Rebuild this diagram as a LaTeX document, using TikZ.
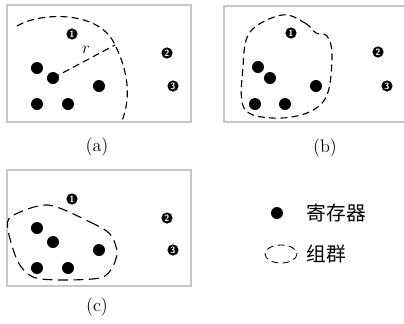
\documentclass[tikz,border=0pt]{standalone}
\usepackage{fontspec}
\newfontfamily\cjk{Noto Sans CJK SC}
\usetikzlibrary{calc,positioning}

\tikzset{
  reg/.style={circle,fill=black,inner sep=0pt,minimum size=0.3cm},
  num/.style={circle,fill=black,text=white,inner sep=0pt,minimum size=0.28cm,
    font=\sffamily\bfseries\fontsize{6.5}{7}\selectfont},
  frame/.style={draw=black!22,line width=0.8pt},
  grp/.style={line width=0.8pt,dash pattern=on 5pt off 3pt},
  longgrp/.style={line width=0.8pt,dash pattern=on 7pt off 4pt},
  subcap/.style={font=\fontsize{13}{15}\selectfont}
}

\begin{document}
\begin{tikzpicture}[x=0.025cm,y=-0.025cm]
    \useasboundingbox (0,0) rectangle (404,324);
    % panel (a): radius around one register
    \draw[frame] (7,5) rectangle (191,122);
    \node[reg] (a1) at (37,68) {};
    \node[reg] (a2) at (53,78) {};
    \node[reg] (a3) at (37,104) {};
    \node[reg] (a4) at (68,104) {};
    \node[reg] (a5) at (99,86) {};
    \node[num] (an1) at (72,34) {1};
    \node[num] (an2) at (167,53) {2};
    \node[num] (an3) at (173,86) {3};
    \coordinate (ra) at (115,45);
    \draw[grp] (17,26) .. controls (40,12) and (100,10) .. (ra)
                       .. controls (130,75) and (130,100) .. (122,121);
    \draw[grp] (a2.center) -- (ra);
    \node[subcap] (r) at (86,50) {$r$};
    \node[subcap] (capa) at (97,147) {(a)};

    % panel (b): first grouping
    \draw[frame] (404,6) -- (224,6) -- (224,122) -- (404,122);
    \node[reg] (b1) at (258,67) {};
    \node[reg] (b2) at (270,78) {};
    \node[reg] (b3) at (255,104) {};
    \node[reg] (b4) at (285,104) {};
    \node[reg] (b5) at (316,86) {};
    \node[num] (bn1) at (291,33) {1};
    \node[num] (bn2) at (378,52) {2};
    \node[num] (bn3) at (387,86) {3};
    \draw[grp] plot[smooth cycle,tension=0.6] coordinates {
      (282,15) (305,23) (316,33) (327,36) (332,55) (327,95) (307,113)
      (272,118) (244,108) (243,67) (250,32)};
    \node[subcap] (capb) at (325,148) {(b)};

    % panel (c): second grouping
    \draw[frame] (7,170) rectangle (191,286);
    \node[reg] (c1) at (37,228) {};
    \node[reg] (c2) at (53,242) {};
    \node[reg] (c3) at (37,268) {};
    \node[reg] (c4) at (68,268) {};
    \node[reg] (c5) at (99,250) {};
    \node[num] (cn1) at (72,199) {1};
    \node[num] (cn2) at (167,218) {2};
    \node[num] (cn3) at (173,250) {3};
    \draw[longgrp] plot[smooth cycle,tension=0.5] coordinates {
      (48,205) (90,222) (110,234) (117,252) (112,268) (100,278)
      (60,280) (33,277) (18,262) (8,230) (12,216)};
    \node[subcap] (capc) at (97,307) {(c)};

    % legend
    \node[reg] (lreg) at (277,213) {};
    \node[font=\fontsize{14}{16}\selectfont,anchor=west] (treg) at (302,213) {\cjk 寄存器};
    \coordinate (lgrp) at (281,254);
    \draw[grp,line width=0.6pt] (lgrp) ellipse (16 and 9);
    \node[font=\fontsize{14}{16}\selectfont,anchor=west] (tgrp) at (302,254) {\cjk 组群};
\end{tikzpicture}
\end{document}
